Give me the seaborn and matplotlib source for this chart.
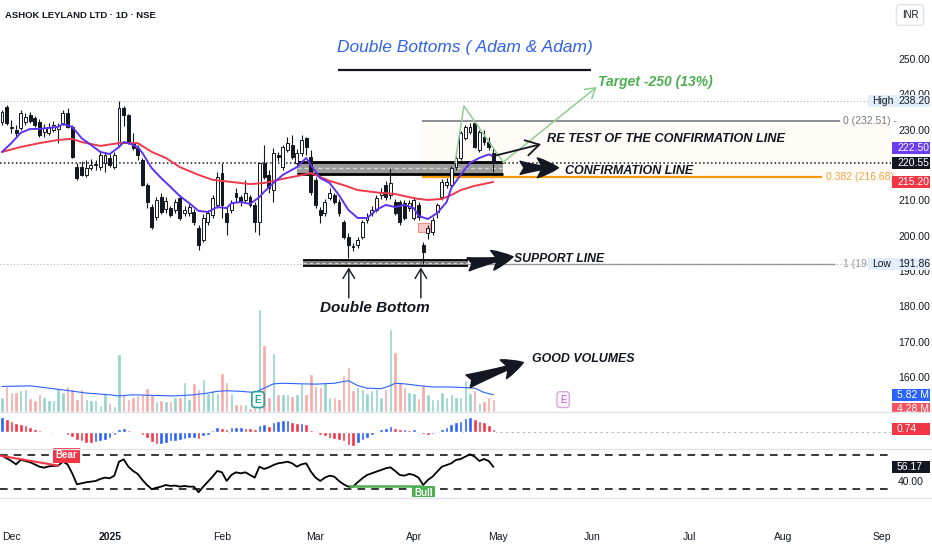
import numpy as np
import pandas as pd
import matplotlib
matplotlib.use("Agg")
import matplotlib.pyplot as plt
import seaborn as sns
from matplotlib.patches import Rectangle
from matplotlib.lines import Line2D
from matplotlib import font_manager

# ---------------- data ----------------
opens = [232.2, 236.4, 230.8, 229.9, 230.5, 232.2, 234.2, 233.3, 232.2, 229.3,
         229.1, 229.9, 230.2, 231.9, 234.7, 230.8, 219.4, 219.4, 217.2, 219.1,
         220.0, 219.4, 220.6, 222.0, 219.4, 225.7, 236.1, 234.2, 226.2, 224.8,
         221.4, 214.3, 208.1, 205.3, 210.9, 207.5, 207.8, 207.3, 210.7, 206.4,
         206.4, 206.7, 202.2, 198.8, 203.9, 205.9, 208.7, 217.7, 206.4, 207.3,
         212.1, 210.9, 210.1, 210.9, 208.7, 203.9, 220.6, 217.2, 212.9, 222.8,
         219.4, 224.2, 225.7, 220.6, 223.4, 227.6, 222.3, 215.8, 207.3, 206.4,
         210.7, 211.5, 209.5, 203.9, 199.6, 197.1, 197.4, 199.6, 204.4, 206.4,
         207.3, 211.5, 214.3, 211.5, 209.5, 209.5, 209.2, 207.8, 205.0, 208.7,
         197.4, 200.8, 201.0, 206.7, 210.9, 214.3, 214.3, 219.4, 222.0, 227.6,
         229.3, 231.9, 224.2, 228.0, 226.5, 223.4]
highs = [235.6, 237.0, 232.7, 231.3, 235.6, 234.7, 235.0, 234.0, 233.0, 231.5,
         231.8, 232.5, 232.0, 235.6, 236.1, 231.3, 220.6, 221.0, 221.4, 221.7,
         221.4, 223.6, 223.4, 223.0, 223.6, 238.2, 236.6, 234.5, 229.1, 225.7,
         222.0, 215.0, 209.0, 211.0, 212.0, 211.0, 208.5, 210.5, 211.5, 208.5,
         209.0, 207.5, 203.0, 206.0, 207.3, 211.5, 218.0, 220.6, 208.0, 210.0,
         213.5, 211.5, 215.8, 211.5, 209.5, 220.9, 225.7, 218.5, 224.8, 223.6,
         225.7, 227.9, 228.5, 224.5, 228.5, 228.0, 224.2, 216.6, 208.0, 210.5,
         213.5, 212.0, 210.5, 204.5, 200.8, 198.0, 199.6, 204.5, 206.4, 208.5,
         211.5, 213.5, 215.5, 219.1, 210.5, 210.1, 210.1, 210.1, 211.0, 209.5,
         198.2, 203.0, 205.3, 209.2, 216.0, 216.3, 219.7, 222.8, 229.6, 231.3,
         231.9, 232.5, 229.9, 229.9, 227.9, 224.8]
lows = [231.3, 231.3, 229.1, 228.0, 229.9, 231.3, 232.0, 230.8, 228.0, 228.0,
        228.5, 229.3, 226.2, 231.3, 230.5, 222.0, 215.8, 216.9, 216.6, 218.6,
        218.6, 218.6, 218.0, 219.5, 219.0, 225.2, 231.0, 226.0, 224.2, 221.4,
        214.0, 207.8, 202.0, 204.5, 206.0, 206.5, 205.3, 206.5, 204.5, 205.5,
        205.5, 203.0, 195.9, 198.2, 203.0, 205.0, 207.8, 205.0, 200.2, 206.5,
        209.5, 208.5, 209.5, 208.0, 201.0, 200.2, 216.0, 212.0, 209.5, 221.0,
        218.6, 223.7, 221.7, 219.8, 222.5, 222.8, 211.5, 207.8, 203.6, 205.5,
        210.0, 209.0, 205.5, 199.0, 193.7, 195.7, 196.5, 199.0, 203.6, 205.6,
        206.7, 210.5, 210.0, 210.5, 205.9, 203.0, 204.4, 207.0, 204.5, 204.4,
        191.86, 199.0, 200.2, 205.0, 210.1, 213.5, 213.8, 218.6, 221.4, 227.0,
        228.8, 224.8, 223.8, 225.7, 224.2, 218.0]
closes = [235.0, 231.9, 230.5, 229.1, 234.7, 233.6, 232.4, 231.3, 228.5, 230.5,
          230.8, 231.3, 231.0, 234.7, 230.8, 222.3, 216.3, 217.2, 219.1, 220.0,
          220.3, 222.8, 222.8, 220.0, 222.8, 236.1, 234.2, 226.5, 224.8, 222.8,
          214.3, 209.5, 202.5, 210.1, 206.7, 209.8, 205.9, 209.5, 205.0, 207.3,
          208.1, 203.9, 197.4, 205.0, 206.4, 210.7, 216.6, 208.7, 203.9, 209.2,
          211.0, 209.5, 212.1, 208.7, 203.9, 220.6, 216.6, 213.5, 223.4, 222.3,
          225.1, 226.2, 222.3, 223.4, 227.1, 225.1, 212.4, 208.7, 205.9, 209.5,
          212.1, 209.5, 206.4, 199.6, 197.4, 196.8, 198.8, 203.9, 205.3, 207.3,
          210.7, 212.4, 210.9, 214.9, 206.4, 203.9, 205.0, 209.2, 210.1, 205.3,
          195.4, 202.2, 204.4, 208.7, 215.2, 215.2, 219.1, 222.0, 229.1, 230.8,
          230.8, 225.1, 229.3, 226.5, 225.1, 220.55]
volumes_m = [5.2, 8.7, 6.9, 6.9, 7.5, 7.8, 4.6, 4.0, 6.0, 5.2,
             4.0, 4.0, 8.1, 6.9, 8.7, 7.8, 4.4, 7.8, 4.3, 4.0,
             4.0, 2.1, 6.4, 3.1, 2.0, 20.0, 6.0, 4.4, 4.9, 5.8,
             6.0, 8.1, 6.0, 3.7, 4.0, 3.5, 3.5, 5.2, 5.2, 10.1,
             4.5, 9.8, 7.8, 11.3, 6.4, 7.3, 6.4, 13.3, 10.4, 6.4,
             2.5, 2.5, 2.5, 1.2, 1.5, 35.5, 23.1, 5.2, 20.2, 6.1,
             6.1, 6.1, 5.4, 6.1, 9.8, 6.1, 13.1, 8.9, 8.4, 10.4,
             5.2, 5.0, 4.3, 12.7, 15.4, 7.5, 8.4, 7.8, 6.4, 7.5,
             7.8, 5.2, 7.8, 28.6, 20.8, 10.1, 8.4, 6.9, 6.4, 4.6,
             9.3, 6.1, 4.3, 4.3, 6.9, 5.2, 6.1, 5.2, 5.0, 10.8,
             6.4, 7.5, 2.9, 3.5, 5.0, 4.28]
vol_ma_idx = [0, 6, 10, 14, 18, 23, 25, 28, 32, 37, 41, 44, 46, 48, 51, 54, 56, 58,
              60, 64, 67, 71, 74, 76, 78, 81, 83, 84, 86, 89, 92, 96, 99, 101, 103, 105]
vol_ma_val = [8.7, 8.9, 8.1, 7.3, 6.4, 5.8, 5.4, 5.8, 5.6, 5.4, 5.8, 6.4, 7.0, 7.2, 7.0, 6.6, 8.1, 9.6,
              9.8, 9.6, 9.5, 9.8, 10.7, 9.0, 8.1, 7.9, 9.0, 9.8, 9.6, 9.0, 8.5, 8.5, 8.3, 8.1, 6.6, 5.82]
ma_fast_idx = [0, 2, 4, 6, 8, 10, 12, 13, 15, 17, 19, 21, 23, 25, 26, 27, 29, 30, 32, 34,
               36, 38, 40, 42, 44, 46, 48, 49, 51, 53, 55, 56, 58, 60, 63, 65, 66, 68, 70, 72,
               74, 76, 78, 80, 82, 84, 86, 88, 89, 91, 93, 95, 96, 98, 100, 102, 104, 105]
ma_fast_val = [223.7, 226.2, 229.1, 230.2, 230.2, 230.5, 230.8, 231.6, 230.8, 227.6, 225.7, 223.7,
               223.1, 225.1, 226.5, 226.2, 225.1, 223.4, 219.1, 216.3, 213.8, 211.2, 209.2, 207.0,
               206.7, 208.1, 207.8, 209.2, 209.5, 209.0, 210.9, 212.4, 214.9, 217.2, 219.4, 222.0,
               220.0, 216.3, 214.9, 211.5, 207.3, 205.0, 205.0, 207.3, 208.7, 208.1, 208.7, 207.8,
               205.6, 204.7, 206.4, 209.5, 213.5, 217.2, 220.6, 222.0, 223.0, 222.5]
ma_slow_idx = [0, 4, 8, 12, 15, 17, 21, 25, 27, 29, 32, 35, 38, 42, 45, 49, 53, 56, 59, 62,
               65, 66, 68, 70, 73, 76, 79, 81, 84, 87, 89, 91, 94, 96, 98, 101, 105]
ma_slow_val = [223.7, 225.1, 226.2, 227.1, 227.4, 226.5, 225.4, 226.2, 226.2, 226.2, 223.7, 222.0,
               219.4, 217.2, 215.8, 215.2, 214.6, 214.9, 215.8, 216.6, 217.4, 217.7, 216.6, 215.5,
               214.3, 212.9, 212.4, 212.1, 211.8, 210.9, 210.4, 210.1, 210.4, 211.5, 212.9, 214.1, 215.2]
macd_hist = [3.26, 2.9, 2.5, 2.0, 1.8, 1.6, 1.2, 0.7, 0.5, 0.2,
             0.1, -0.1, -0.2, -0.15, -0.6, -1.1, -1.7, -2.0, -2.3, -2.4,
             -2.2, -2.0, -1.7, -1.3, -0.7, 0.6, 1.0, 0.5, 0.36, 0.1,
             -0.6, -1.3, -2.2, -2.6, -2.6, -2.4, -2.0, -1.9, -1.7, -1.5,
             -1.3, -1.2, -1.5, -0.9, -0.6, 0.4, 1.2, 0.9, 0.7, 1.1,
             1.2, 1.2, 1.0, 0.9, 0.6, 1.6, 1.7, 1.4, 2.3, 2.5,
             2.6, 2.7, 2.2, 2.0, 2.0, 1.8, 0.5, -0.2, -0.7, -0.9,
             -1.2, -1.5, -1.7, -2.0, -2.8, -2.9, -2.4, -1.8, -1.2, -0.6,
             0.1, 0.6, 0.9, 1.3, 0.9, 0.6, 0.6, 0.5, 0.6, 0.1,
             -0.4, -0.6, -0.4, 0.0, 0.7, 1.2, 1.7, 2.2, 2.5, 3.1,
             3.3, 2.9, 2.5, 2.2, 1.6, 0.74]
rsi = [69.2, 66.1, 63.0, 59.1, 64.2, 63.0, 61.5, 59.1, 56.4, 55.2,
       56.8, 57.2, 57.6, 62.2, 59.1, 48.6, 35.8, 37.0, 38.2, 38.9,
       39.7, 42.0, 43.6, 42.8, 45.9, 62.2, 64.9, 56.4, 51.4, 47.9,
       40.9, 35.0, 30.0, 31.9, 33.1, 35.0, 33.9, 34.3, 33.1, 33.9,
       33.1, 33.1, 26.5, 33.1, 38.9, 44.8, 51.4, 49.8, 39.7, 46.7,
       49.8, 48.6, 49.8, 46.7, 43.6, 56.4, 53.7, 55.6, 58.3, 60.3,
       61.1, 62.2, 60.3, 56.4, 59.1, 60.3, 50.6, 43.6, 39.7, 43.6,
       45.9, 44.8, 39.7, 35.8, 33.1, 33.1, 38.2, 42.8, 46.7, 48.6,
       50.6, 52.5, 54.5, 55.6, 51.4, 46.7, 45.9, 47.9, 46.7, 43.6,
       35.0, 40.9, 44.8, 50.6, 56.4, 58.3, 60.3, 64.2, 65.3, 68.1,
       70.8, 68.1, 63.0, 65.3, 63.0, 56.17]
month_labels = ['Dec', '2025', 'Feb', 'Mar', 'Apr', 'May', 'Jun', 'Jul', 'Aug', 'Sep']
month_pos = [2, 23, 47, 67, 88, 106, 126, 147, 167, 188]
price_ticks = [160, 170, 180, 190, 200, 210, 220, 230, 240, 250]
fib_levels = [232.51, 216.68, 191.86]
pattern_idx = [96.8, 98.7, 107.1]
pattern_val = [220.6, 236.7, 220.8]
last_price, last_fast, last_slow = 220.55, 222.50, 215.20
hi_price, lo_price = 238.20, 191.86

# ---------------- setup ----------------
sns.set_theme(style="white")
names = {f.name for f in font_manager.fontManager.ttflist}
BASE = 'Liberation Sans' if 'Liberation Sans' in names else 'DejaVu Sans'
NARROW = 'Liberation Sans Narrow' if 'Liberation Sans Narrow' in names else BASE
plt.rcParams['font.family'] = [BASE, 'DejaVu Sans']

W, H = 932, 550
RIGHT = 891
fig = plt.figure(figsize=(W / 100, H / 100), dpi=100)
fig.patch.set_facecolor('white')

def fy(py):
    return 1 - py / H

axp = fig.add_axes([0, fy(411.5), RIGHT / W, 411.5 / H])
axv = axp.twinx()
axm = fig.add_axes([0, fy(448.5), RIGHT / W, 36 / H])
axr = fig.add_axes([0, fy(497), RIGHT / W, 48 / H])
axv.set_zorder(0)
axp.set_zorder(1)
axp.patch.set_visible(False)
axv.patch.set_visible(False)

XL = (-0.43, (RIGHT - 2) / 4.68)
for a in (axp, axv, axm, axr):
    a.set_xlim(*XL)
    for s in a.spines.values():
        s.set_visible(False)
    a.grid(False)
axp.set_ylim(150.23, 266.70)
axv.set_ylim(0, 142.8)
axm.set_ylim(-3.54, 4.28)
axr.set_ylim(21.0, 77.0)

idx = np.arange(len(closes))
O, Hh, L, C = map(np.array, (opens, highs, lows, closes))
up = C >= O
INK = '#131722'

# volume
axv.bar(idx, volumes_m, width=0.74, color=np.where(up, '#93d3cd', '#f7aaa8'), zorder=1)
sns.lineplot(x=vol_ma_idx, y=vol_ma_val, ax=axv, color='#2962ff', linewidth=0.8, zorder=2)
axv.set_yticks([])
axv.set_ylabel('')

# fib background + lines
axp.fill_between([89.7, XL[1]], fib_levels[1], fib_levels[0], color='#fffcf7', zorder=0.5, lw=0)
axp.hlines(fib_levels[0], 89.7, 179.0, color='#787b86', lw=1.2, zorder=2)
axp.hlines(fib_levels[1], 89.7, 175.2, color='#ff9800', lw=1.6, zorder=2)
axp.hlines(fib_levels[2], 89.7, 178.0, color='#9598a1', lw=1.0, zorder=2)
axp.text(179.8, fib_levels[0], '0 (232.51) -', color='#787b86', fontsize=7.5, va='center', ha='left', zorder=6)
axp.text(176.0, fib_levels[1], '0.382 (216.68) -', color='#f7a13a', fontsize=7.5, va='center', ha='left', zorder=6)
axp.text(179.8, fib_levels[2], '1 (191.86)', color='#9598a1', fontsize=7.5, va='center', ha='left', zorder=6)

# high / low / last dotted lines
axp.axhline(hi_price, color='#b2b5be', ls=(0, (1, 2)), lw=0.8, zorder=1)
axp.axhline(lo_price, color='#b2b5be', ls=(0, (1, 2)), lw=0.8, zorder=1)
axp.axhline(last_price, color=INK, ls=(0, (1, 1.6)), lw=1.1, zorder=2)

# zones
axp.add_patch(Rectangle((63, 217.5), 44, 3.4, fc='#8e8e8e', ec='none', alpha=0.9, zorder=2.5))
axp.hlines([220.9, 217.5], 63, 107, color='black', lw=2.0, zorder=2.6)
axp.hlines(219.2, 63, 107, color='#d5d5d5', lw=1.0, ls=(0, (3, 2)), zorder=2.6)
axp.add_patch(Rectangle((64.3, 191.5), 35.3, 1.7, fc='#7d7d7d', ec='none', zorder=2.5))
axp.hlines([193.2, 191.5], 64.3, 99.6, color='black', lw=1.3, zorder=2.6)
axp.hlines(192.35, 64.3, 99.6, color='#d0d0d0', lw=0.9, ls=(0, (3, 2)), zorder=2.6)
axp.add_patch(Rectangle((88.9, 201.0), 2.6, 2.6, fc='#f9c9c9', ec='#ef8f8f', lw=0.8, zorder=2.7))

# candles
axp.vlines(idx, L, Hh, color=INK, lw=0.8, zorder=3)
axp.bar(idx, np.maximum(np.abs(C - O), 0.12), bottom=np.minimum(O, C), width=0.62,
        color=np.where(up, 'white', INK), edgecolor=INK, linewidth=0.7, zorder=4)

# moving averages
sns.lineplot(x=ma_slow_idx, y=ma_slow_val, ax=axp, color='#f0394b', linewidth=1.4, zorder=5)
sns.lineplot(x=ma_fast_idx, y=ma_fast_val, ax=axp, color='#5d33f0', linewidth=1.4, zorder=5)
axp.set_xlabel('')
axp.set_ylabel('')

# harmonic / target lines
axp.plot(pattern_idx, pattern_val, color='#8fce91', lw=1.1, zorder=5)
axp.annotate('', xy=(127.1, 242.1), xytext=(pattern_idx[-1], pattern_val[-1]),
             arrowprops=dict(arrowstyle='->,head_length=0.5,head_width=0.3', color='#8fce91', lw=1.1,
                             mutation_scale=14, shrinkA=0, shrinkB=0), zorder=5)

# annotations
nt = dict(family=[NARROW, BASE, 'DejaVu Sans'], style='italic', weight='bold')
axp.text(98.9, 253.3, 'Double Bottoms ( Adam & Adam)', color='#2f62e8', fontsize=12.5,
         family=[BASE, 'DejaVu Sans'], style='italic', ha='center', va='center', zorder=7)
axp.hlines(246.9, 71.8, 125.9, color=INK, lw=1.6, zorder=7)
axp.text(127.4, 243.5, 'Target -250 (13%)', color='#4caf50', fontsize=10, ha='left', va='center', zorder=7, **nt)
axp.text(116.5, 227.4, 'RE TEST OF THE CONFIRMATION LINE', color=INK, fontsize=9.2, ha='left', va='center', zorder=7, **nt)
axp.text(120.3, 218.4, 'CONFIRMATION LINE', color=INK, fontsize=9.0, ha='left', va='center', zorder=7, **nt)
axp.text(109.4, 193.5, 'SUPPORT LINE', color=INK, fontsize=8.8, ha='left', va='center', zorder=7, **nt)
axp.text(113.2, 165.1, 'GOOD VOLUMES', color=INK, fontsize=8.9, ha='left', va='center', zorder=7, **nt)
axp.text(79.7, 179.6, 'Double Bottom', color=INK, fontsize=11, ha='center', va='center', zorder=7,
         family=[BASE, 'DejaVu Sans'], style='italic', weight='bold')

axp.annotate('', xy=(115.2, 225.9), xytext=(104.9, 222.5),
             arrowprops=dict(arrowstyle='->,head_length=0.6,head_width=0.35', color=INK, lw=1.3,
                             mutation_scale=16, shrinkA=0, shrinkB=0), zorder=7)
for bx in (74.1, 89.5):
    axp.annotate('', xy=(bx, 191.0), xytext=(bx, 182.4),
                 arrowprops=dict(arrowstyle='->,head_length=0.5,head_width=0.3', color=INK, lw=1.0,
                                 mutation_scale=14, shrinkA=0, shrinkB=0), zorder=7)
fat = dict(arrowstyle='fancy,head_length=0.8,head_width=0.75,tail_width=0.5', fc=INK, ec=INK,
           mutation_scale=19, shrinkA=0, shrinkB=0)
axp.annotate('', xy=(118.9, 219.2), xytext=(110.7, 219.2), arrowprops=fat, zorder=7)
axp.annotate('', xy=(109.2, 194.0), xytext=(99.6, 191.9), arrowprops=fat, zorder=7)
axp.annotate('', xy=(111.4, 164.1), xytext=(99.6, 158.8), arrowprops=fat, zorder=7)

# earnings markers
axp.text(54.7, 153.6, 'E', color='#26a69a', fontsize=7, weight='bold', ha='center', va='center', zorder=8,
         bbox=dict(boxstyle='round,pad=0.3', fc='white', ec='#26a69a', lw=1.2))
axp.text(119.9, 153.6, 'E', color='#ba68c8', fontsize=7, ha='center', va='center', zorder=8,
         bbox=dict(boxstyle='round,pad=0.3', fc='#fbf3fc', ec='#d8a8e0', lw=1.0))

# price axis
axp.yaxis.tick_right()
axp.set_yticks(price_ticks)
axp.set_yticklabels([f"{t:.2f}" for t in price_ticks])
axp.tick_params(axis='y', length=0, pad=5, labelsize=7.5, labelcolor=INK)
axp.tick_params(axis='x', bottom=False, labelbottom=False)

# MACD histogram
hist = np.array(macd_hist)
rising = np.r_[True, np.diff(hist) >= 0]
axm.bar(idx, hist, width=0.78, color=np.where(rising, '#2962ff', '#f23645'), zorder=2)
axm.axhline(0, color='#b2b5be', ls=(0, (2, 3)), lw=0.8, zorder=1)
axm.set_yticks([])
axm.set_xticks([])

# RSI
axr.axhline(70, color='black', ls=(0, (5, 4)), lw=1.1)
axr.axhline(30, color='black', ls=(0, (5, 4)), lw=1.1)
sns.lineplot(x=idx, y=rsi, ax=axr, color='black', linewidth=1.3, zorder=3)
axr.plot([-0.4, 12.0], [69.2, 57.6], color='#f23645', lw=1.5, zorder=3)
axr.plot([74.4, 89.7], [33.4, 33.4], color='#4caf50', lw=1.8, zorder=3)
axr.text(13.8, 69.6, 'Bear', color='white', fontsize=7, weight='bold', ha='center', va='center', zorder=5,
         bbox=dict(boxstyle='square,pad=0.25', fc='#f23645', ec='none'))
axr.text(90.1, 25.2, 'Bull', color='white', fontsize=7, weight='bold', ha='center', va='center', zorder=5,
         bbox=dict(boxstyle='square,pad=0.25', fc='#4caf50', ec='none'), clip_on=True)
axr.yaxis.tick_right()
axr.set_yticks([40])
axr.set_yticklabels(['40.00'])
axr.tick_params(axis='y', length=0, pad=5, labelsize=7.5, labelcolor=INK)
axr.set_xticks(month_pos)
axr.set_xticklabels(month_labels)
axr.tick_params(axis='x', length=0, pad=25, labelsize=7.5, labelcolor=INK)
axr.set_xlabel('')
axr.set_ylabel('')
for t in axr.get_xticklabels():
    if t.get_text() == '2025':
        t.set_fontweight('bold')

# ---------------- right scale tags ----------------
def ypix(ax, v):
    return H - ax.transData.transform((0, v))[1]

def tag(ax, v, text, fc, tc, dy=0, x0=892, x1=930, h=12, tx=897):
    yc = ypix(ax, v) + dy
    fig.add_artist(Rectangle((x0 / W, fy(yc + h / 2)), (x1 - x0) / W, h / H, transform=fig.transFigure,
                             fc=fc, ec='none', zorder=5))
    fig.text(tx / W, fy(yc), text, color=tc, fontsize=7.5, va='center', ha='left', zorder=6)

tag(axp, hi_price, '238.20', '#e3eefc', INK, x0=868, tx=898)
fig.text(872 / W, fy(ypix(axp, hi_price)), 'High', color=INK, fontsize=7.5, va='center', ha='left', zorder=6)
tag(axp, lo_price, '191.86', '#e3eefc', INK, x0=868, tx=898)
fig.text(872 / W, fy(ypix(axp, lo_price)), 'Low', color=INK, fontsize=7.5, va='center', ha='left', zorder=6)
tag(axp, last_fast, '222.50', '#6a3df5', 'white', dy=-8.5)
tag(axp, last_price, '220.55', '#131722', 'white')
tag(axp, last_slow, '215.20', '#f23645', 'white')
tag(axv, vol_ma_val[-1], '5.82 M', '#2962ff', 'white')
tag(axv, volumes_m[-1], '4.28 M', '#f7525f', 'white', dy=9.5)
tag(axm, macd_hist[-1], '0.74', '#f23645', 'white')
tag(axr, rsi[-1], '56.17', '#131722', 'white')

# clean lower edge of volume tag, pane separators
fig.add_artist(Rectangle((RIGHT / W, fy(419)), (W - RIGHT) / W, 7 / H, transform=fig.transFigure,
                         fc='white', ec='none', zorder=7))
for yy in (412, 449, 497.5):
    fig.add_artist(Line2D([0, 1], [fy(yy), fy(yy)], transform=fig.transFigure, color='#e0e3eb', lw=1, zorder=8))

# header + currency box
fig.text(5 / W, fy(15), 'ASHOK LEYLAND LTD · 1D · NSE', color=INK, fontsize=6.8, weight='bold',
         va='center', ha='left', zorder=9)
fig.text(910 / W, fy(15), 'INR', color=INK, fontsize=7, va='center', ha='center', zorder=9,
         bbox=dict(boxstyle='round,pad=0.55,rounding_size=0.3', fc='white', ec='#e0e3eb', lw=1))

fig.savefig('out.png', dpi=100, facecolor='white')
